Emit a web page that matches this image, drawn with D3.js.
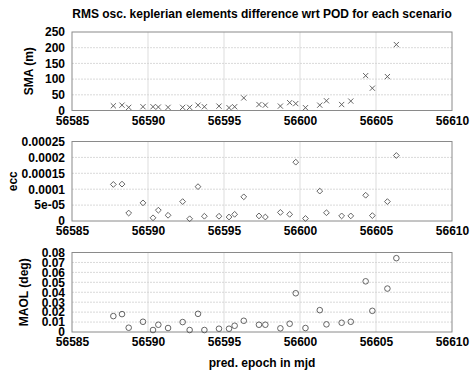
<!DOCTYPE html>
<html>
<head>
<meta charset="utf-8">
<script src="https://cdn.jsdelivr.net/npm/d3@7"></script>
<style>
  body { margin: 0; background: #fff; }
  svg { font-family: "Liberation Sans", Arial, sans-serif; }
  .axis text { font-size: 12px; font-weight: bold; fill: #000; }
  .axis path, .axis line { stroke: none; }
</style>
</head>
<body>
<div id="chart"></div>
<script>
// prediction epochs (mjd)
var epochs = [56587.72, 56588.29, 56588.73, 56589.67, 56590.33, 56590.68, 56591.32, 56592.28,
              56592.74, 56593.29, 56593.71, 56594.67, 56595.33, 56595.70, 56596.30, 56597.30,
              56597.72, 56598.71, 56599.32, 56599.72, 56600.36, 56601.30, 56601.74, 56602.74,
              56603.34, 56604.32, 56604.76, 56605.75, 56606.34];
var smaValues = [15, 17, 10, 12, 12, 11, 10, 10, 10, 17, 12, 14, 9, 12, 40, 19,
                 17, 14, 25, 22, 9, 17, 31, 19, 30, 111, 71, 108, 210];
var eccValues = [1.15e-4, 1.16e-4, 2.5e-5, 5.7e-5, 1.0e-5, 3.4e-5, 1.8e-5, 6.1e-5,
                 0.7e-5, 1.08e-4, 1.5e-5, 1.5e-5, 1.25e-5, 2.1e-5, 7.6e-5, 1.6e-5,
                 1.25e-5, 2.7e-5, 2.1e-5, 1.85e-4, 0.8e-5, 9.4e-5, 2.6e-5, 1.6e-5,
                 1.6e-5, 8.1e-5, 1.7e-5, 6.1e-5, 2.06e-4];
var maolValues = [0.016, 0.018, 0.0043, 0.0103, 0.002, 0.0073, 0.004, 0.010,
                  0.002, 0.0183, 0.002, 0.0033, 0.0033, 0.0063, 0.0113, 0.0073,
                  0.0073, 0.0037, 0.0083, 0.039, 0.004, 0.022, 0.0077, 0.0093,
                  0.0103, 0.051, 0.0213, 0.0437, 0.0743];

var xTicks = [56585, 56590, 56595, 56600, 56605, 56610];
var smaTicks = [0, 50, 100, 150, 200, 250];
var eccTicks = [0, 5e-5, 1e-4, 1.5e-4, 2e-4, 2.5e-4];
var eccTickLabels = ["0", "5e-05", "0.0001", "0.00015", "0.0002", "0.00025"];
var maolTicks = [0, 0.01, 0.02, 0.03, 0.04, 0.05, 0.06, 0.07, 0.08];

var W = 470, H = 372;
var left = 72, right = 452;

var svg = d3.select("#chart").append("svg")
    .attr("width", W)
    .attr("height", H);

svg.append("text")
    .attr("x", 262)
    .attr("y", 18)
    .attr("text-anchor", "middle")
    .style("font-size", "12px")
    .style("font-weight", "bold")
    .text("RMS osc. keplerian elements difference wrt POD for each scenario");

var x = d3.scaleLinear().domain([56585, 56610]).range([left, right]);

var panels = [
    {values: smaValues, ticks: smaTicks, labels: null, domain: [0, 250], range: [110.5, 32],
     label: "SMA (m)", labelX: 29, marker: "cross"},
    {values: eccValues, ticks: eccTicks, labels: eccTickLabels, domain: [0, 2.5e-4], range: [221, 141.5],
     label: "ecc", labelX: 13, marker: "diamond"},
    {values: maolValues, ticks: maolTicks, labels: null, domain: [0, 0.08], range: [332, 252.5],
     label: "MAOL (deg)", labelX: 24, marker: "circle"}
];

panels.forEach(function(p) {
    var y = d3.scaleLinear().domain(p.domain).range(p.range);
    var g = svg.append("g");

    // grid
    g.selectAll(".hgrid")
        .data(p.ticks.slice(1, -1))
        .enter().append("line")
        .attr("x1", left).attr("x2", right)
        .attr("y1", function(d) { return y(d); })
        .attr("y2", function(d) { return y(d); })
        .attr("stroke", "#cfcfcf")
        .attr("stroke-width", 0.8)
        .attr("stroke-dasharray", "2,1");

    g.selectAll(".vgrid")
        .data(xTicks.slice(1, -1))
        .enter().append("line")
        .attr("x1", function(d) { return x(d); })
        .attr("x2", function(d) { return x(d); })
        .attr("y1", p.range[0]).attr("y2", p.range[1])
        .attr("stroke", "#d4d4d4")
        .attr("stroke-width", 0.8);

    // frame
    g.append("rect")
        .attr("x", left).attr("y", p.range[1])
        .attr("width", right - left)
        .attr("height", p.range[0] - p.range[1])
        .attr("fill", "none")
        .attr("stroke", "#8a8a8a")
        .attr("stroke-width", 1);

    // axes
    var yAxis = d3.axisLeft(y)
        .tickValues(p.ticks)
        .tickSize(0)
        .tickPadding(7)
        .tickFormat(function(d, i) { return p.labels ? p.labels[i] : d3.format("")(d); });
    g.append("g")
        .attr("class", "axis")
        .attr("transform", "translate(" + left + ",0)")
        .call(yAxis);

    var xAxis = d3.axisBottom(x)
        .tickValues(xTicks)
        .tickSize(0)
        .tickPadding(5.5)
        .tickFormat(d3.format("d"));
    g.append("g")
        .attr("class", "axis")
        .attr("transform", "translate(0," + p.range[0] + ")")
        .call(xAxis);

    // y label
    g.append("text")
        .attr("transform", "translate(" + p.labelX + "," + ((p.range[0] + p.range[1]) / 2) + ") rotate(-90)")
        .attr("text-anchor", "middle")
        .attr("dy", "0.35em")
        .style("font-size", "12px")
        .style("font-weight", "bold")
        .text(p.label);

    // markers
    var pts = epochs.map(function(e, i) { return {x: e, y: p.values[i]}; });
    var marks = g.selectAll(".mark")
        .data(pts)
        .enter();

    if (p.marker == "cross") {
        var s = 2.6;
        marks.append("path")
            .attr("d", function(d) {
                var cx = x(d.x), cy = y(d.y);
                return "M" + (cx - s) + "," + (cy - s) + "L" + (cx + s) + "," + (cy + s) +
                       "M" + (cx - s) + "," + (cy + s) + "L" + (cx + s) + "," + (cy - s);
            })
            .attr("stroke", "#555")
            .attr("stroke-width", 0.9)
            .attr("fill", "none");
    } else if (p.marker == "diamond") {
        var r = 2.9;
        marks.append("path")
            .attr("d", function(d) {
                var cx = x(d.x), cy = y(d.y);
                return "M" + cx + "," + (cy - r) + "L" + (cx + r) + "," + cy +
                       "L" + cx + "," + (cy + r) + "L" + (cx - r) + "," + cy + "Z";
            })
            .attr("stroke", "#555")
            .attr("stroke-width", 0.9)
            .attr("fill", "none");
    } else {
        marks.append("circle")
            .attr("cx", function(d) { return x(d.x); })
            .attr("cy", function(d) { return y(d.y); })
            .attr("r", 2.8)
            .attr("stroke", "#555")
            .attr("stroke-width", 0.9)
            .attr("fill", "none");
    }
});

svg.append("text")
    .attr("x", 262)
    .attr("y", 367)
    .attr("text-anchor", "middle")
    .style("font-size", "12px")
    .style("font-weight", "bold")
    .text("pred. epoch in mjd");
</script>
</body>
</html>
